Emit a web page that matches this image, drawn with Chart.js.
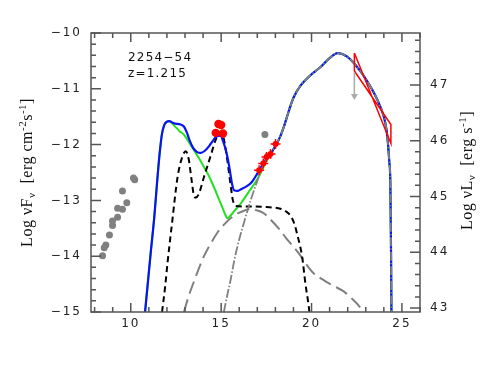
<!DOCTYPE html>
<html>
<head>
<meta charset="utf-8">
<script src="https://cdn.jsdelivr.net/npm/chart.js@4.4.1/dist/chart.umd.min.js"></script>
<style>
  body { margin: 0; background: #fff; }
</style>
</head>
<body>
<canvas id="sed" width="491" height="382"></canvas>
<script>
// log nu [Hz] vs log nuF_nu
const sourceName = '2254\u221254';
const redshift = 'z=1.215';
const lumOffset = 57.93; // log nuL_nu = log nuF_nu + offset

const xTickLabels = [10, 15, 20, 25];
const yTickLabels = [-15, -14, -13, -12, -11, -10];
const y2TickLabels = [43, 44, 45, 46, 47];

// common high energy hump (blue total, green and EC overlap there)
const hump = [[17.7,-12.19],[17.9,-12.08],[18.1,-11.97],[18.3,-11.83],[18.5,-11.65],[18.75,-11.39],
  [19.0,-11.16],[19.4,-10.94],[19.9,-10.77],[20.5,-10.61],[21.0,-10.45],[21.45,-10.36],[21.95,-10.42],
  [22.5,-10.6],[23.05,-10.85],[23.6,-11.17],[24.0,-11.5],[24.14,-11.72],[24.22,-11.95],[24.3,-12.3],
  [24.36,-12.7],[24.4,-14.0],[24.42,-15]];

const totalLow = [[10.79,-15],[11.1,-13.95],[11.3,-13.3],[11.47,-12.62],[11.6,-12.15],[11.72,-11.82],
  [11.85,-11.65],[12.0,-11.59],[12.12,-11.58],[12.4,-11.62],[12.75,-11.64],[12.95,-11.68],[13.1,-11.78],
  [13.25,-11.92],[13.45,-12.06],[13.65,-12.13],[13.87,-12.15],[14.1,-12.11],[14.35,-12.02],[14.55,-11.93],
  [14.75,-11.85],[14.95,-11.84],[15.12,-11.95],[15.3,-12.15],[15.45,-12.4],[15.6,-12.7],[15.72,-12.82],
  [15.9,-12.83],[16.1,-12.8],[16.4,-12.75],[16.7,-12.67],[17.0,-12.52],[17.2,-12.41],[17.4,-12.3]];

const greenLow = [[10.79,-15],[11.1,-13.95],[11.3,-13.3],[11.47,-12.62],[11.6,-12.15],[11.72,-11.82],
  [11.85,-11.65],[12.0,-11.59],[12.12,-11.58],[12.4,-11.66],[12.7,-11.76],[12.94,-11.82],[13.2,-11.95],
  [13.5,-12.1],[13.8,-12.26],[14.05,-12.4],[14.35,-12.58],[14.6,-12.76],[14.85,-12.96],[15.06,-13.12],
  [15.25,-13.27],[15.34,-13.32],[15.5,-13.28],[15.7,-13.2],[16.07,-13.06],[16.5,-12.86],[17.0,-12.62],
  [17.2,-12.5],[17.45,-12.33]];

const torusDisk = [[11.73,-15],[11.9,-14.55],[12.03,-14.13],[12.3,-13.36],[12.58,-12.6],[12.85,-12.22],
  [13.04,-12.12],[13.2,-12.25],[13.35,-12.6],[13.5,-12.92],[13.6,-12.95],[13.77,-12.88],[14.05,-12.58],
  [14.42,-12.2],[14.69,-11.92],[14.88,-11.79],[15.0,-11.77],[15.15,-11.9],[15.35,-12.3],[15.52,-12.72],
  [15.65,-13.0],[15.8,-13.1],[16.6,-13.11],[17.5,-13.12],[18.28,-13.15],[18.6,-13.2],[18.85,-13.28],
  [19.05,-13.42],[19.2,-13.6],[19.48,-14.01],[19.66,-14.49],[19.85,-14.91],[19.88,-15]];

const ssc = [[12.94,-15],[13.2,-14.72],[13.5,-14.45],[14.05,-14.0],[14.5,-13.73],[14.79,-13.58],
  [15.2,-13.42],[15.52,-13.32],[16.0,-13.22],[16.3,-13.18],[16.63,-13.15],[17.0,-13.18],[17.36,-13.23],
  [17.9,-13.4],[18.28,-13.54],[18.6,-13.68],[19.0,-13.83],[19.3,-13.95],[19.65,-14.12],[20.1,-14.3],
  [20.67,-14.43],[21.2,-14.53],[21.78,-14.63],[22.33,-14.79],[22.6,-14.88],[22.85,-15]];

const ecLow = [[15.15,-15],[15.35,-14.68],[15.52,-14.43],[15.7,-14.12],[15.89,-13.84],[16.26,-13.4],
  [16.63,-13.0],[17.0,-12.65],[17.2,-12.48],[17.4,-12.32]];

const radioPts = [[10.15,-12.6],[10.22,-12.63],[9.54,-12.83],[9.78,-13.04],[9.27,-13.14],[9.54,-13.16],
  [9.27,-13.3],[8.99,-13.37],[8.99,-13.45],[8.82,-13.62],[8.62,-13.8],[8.53,-13.85],[8.44,-13.99],
  [17.42,-11.82]];

const opticalPts = [[14.85,-11.63],[15.0,-11.65],[14.7,-11.79],[15.1,-11.8]];

const xrayPts = [[17.1,-12.46],[17.33,-12.34],[17.51,-12.22],[17.73,-12.17],[18.01,-11.99]];

const fermiBowtie = [[22.37,-10.36],[24.39,-11.98],[24.39,-11.64],[22.37,-10.68],[22.37,-10.36]];

const upperLimit = [[22.37,-10.70],[22.37,-11.13]];

function pts(arr) {
  return arr.map(p => ({ x: p[0], y: p[1] }));
}

function curve(data, color, width, dash, order) {
  return {
    data: pts(data),
    showLine: true,
    borderColor: color,
    borderWidth: width,
    borderDash: dash,
    pointRadius: 0,
    cubicInterpolationMode: 'monotone',
    order: order
  };
}

function drawTitle(ctx, cx, cy, parts) {
  const big = '16px "Liberation Serif"';
  const small = '11px "Liberation Serif"';
  ctx.save();
  ctx.letterSpacing = '0.5px';
  let total = 0;
  parts.forEach(p => {
    ctx.font = p[1] ? small : big;
    total += ctx.measureText(p[0]).width;
  });
  ctx.translate(cx, cy);
  ctx.rotate(-Math.PI / 2);
  ctx.fillStyle = '#111';
  ctx.textBaseline = 'alphabetic';
  let x = -total / 2;
  parts.forEach(p => {
    ctx.font = p[1] ? small : big;
    const dy = p[1] === 'sub' ? 3 : (p[1] === 'sup' ? -6 : 0);
    ctx.fillText(p[0], x, 5 + dy);
    x += ctx.measureText(p[0]).width;
  });
  ctx.restore();
}

const frame = {
  id: 'frame',
  beforeDraw(chart) {
    chart.ctx.letterSpacing = '2px';
  },
  afterDatasetsDraw(chart) {
    const ctx = chart.ctx;
    const a = chart.chartArea;
    const sx = chart.scales.x, sy = chart.scales.y, sy2 = chart.scales.y2;
    ctx.save();
    ctx.strokeStyle = '#555';
    ctx.lineWidth = 1.5;
    ctx.strokeRect(a.left, a.top, a.right - a.left, a.bottom - a.top);
    ctx.beginPath();
    for (let v = 8; v <= 26; v++) {
      const px = sx.getPixelForValue(v);
      const len = v % 5 === 0 ? 9 : 5;
      ctx.moveTo(px, a.bottom); ctx.lineTo(px, a.bottom - len);
      ctx.moveTo(px, a.top); ctx.lineTo(px, a.top + len);
    }
    for (let i = 0; i <= 25; i++) {
      const py = sy.getPixelForValue(-15 + i * 0.2);
      const len = i % 5 === 0 ? 10 : 5;
      ctx.moveTo(a.left, py); ctx.lineTo(a.left + len, py);
    }
    for (let i = 0; i <= 24; i++) {
      const py = sy2.getPixelForValue(43 + i * 0.2);
      const len = i % 5 === 0 ? 10 : 5;
      ctx.moveTo(a.right, py); ctx.lineTo(a.right - len, py);
    }
    ctx.stroke();

    // labels inside the plot
    ctx.fillStyle = '#111';
    ctx.letterSpacing = '1.2px';
    ctx.font = '12px "DejaVu Sans"';
    ctx.textBaseline = 'middle';
    ctx.fillText(sourceName, a.left + 37, 58);
    ctx.fillText(redshift, a.left + 37, 73.5);
    ctx.restore();

    // axis titles with sub/superscripts
    drawTitle(ctx, 27, (a.top + a.bottom) / 2,
      [['Log \u03BDF'], ['\u03BD', 'sub'], ['  [erg cm'], ['-2', 'sup'], ['s'], ['-1', 'sup'], [']']]);
    drawTitle(ctx, 467, (a.top + a.bottom) / 2 - 2,
      [['Log \u03BDL'], ['\u03BD', 'sub'], ['  [erg s'], ['-1', 'sup'], [']']]);
  }
};

const tickFont = { family: 'DejaVu Sans', size: 12 };
const fixTicks = vals => s => { s.ticks = vals.map(v => ({ value: v })); };

new Chart(document.getElementById('sed'), {
  type: 'scatter',
  data: {
    datasets: [
      { data: pts(opticalPts), pointRadius: 4.2, pointBackgroundColor: '#ff0000', pointBorderWidth: 0, order: 0 },
      { data: pts(xrayPts), pointRadius: 3, pointBackgroundColor: '#ff0000', pointBorderWidth: 0, order: 0 },
      { data: pts(xrayPts), pointStyle: 'cross', pointRadius: 5, pointBorderColor: '#ff0000', pointBorderWidth: 1.5, order: 1 },
      {
        data: pts(upperLimit), showLine: true, borderColor: '#aaaaaa', borderWidth: 1.5,
        pointRadius: [0, 4], pointStyle: 'triangle', pointRotation: 180,
        pointBackgroundColor: '#aaaaaa', pointBorderWidth: 0, order: 2
      },
      { data: pts(fermiBowtie), showLine: true, borderColor: '#ff0000', borderWidth: 1.5, pointRadius: 0, order: 3 },
      { data: pts(radioPts), pointRadius: 3.5, pointBackgroundColor: '#808080', pointBorderWidth: 0, order: 4 },
      curve(ecLow.concat(hump), '#808080', 1.8, [9, 2, 1.5, 2], 5),
      curve(totalLow.concat(hump), '#0a14f0', 2.2, [], 6),
      curve(torusDisk, '#000000', 2, [6, 4], 7),
      curve(ssc, '#808080', 2, [13, 6], 8),
      curve(greenLow.concat(hump), '#22e022', 2, [], 9)
    ]
  },
  options: {
    responsive: false,
    animation: false,
    devicePixelRatio: 1,
    layout: { padding: { top: 33, left: 0, right: 0, bottom: 0 } },
    plugins: { legend: { display: false }, tooltip: { enabled: false } },
    scales: {
      x: {
        type: 'linear', min: 7.8, max: 26,
        grid: { display: false, drawTicks: false },
        border: { display: false },
        ticks: { autoSkip: false, padding: 5, maxRotation: 0, font: tickFont, color: '#222' },
        afterBuildTicks: fixTicks(xTickLabels),
        afterFit: s => { s.height = 70; }
      },
      y: {
        type: 'linear', min: -15, max: -10, position: 'left',
        grid: { display: false, drawTicks: false },
        border: { display: false },
        ticks: {
          padding: 9, font: tickFont, color: '#222',
          callback: v => '\u2212' + Math.abs(v)
        },
        afterBuildTicks: fixTicks(yTickLabels),
        afterFit: s => { s.width = 91; }
      },
      y2: {
        type: 'linear', min: -15 + lumOffset, max: -10 + lumOffset, position: 'right',
        grid: { display: false, drawTicks: false },
        border: { display: false },
        ticks: { padding: 10, font: tickFont, color: '#222', callback: v => String(v) },
        afterBuildTicks: fixTicks(y2TickLabels),
        afterFit: s => { s.width = 71; }
      }
    }
  },
  plugins: [frame]
});
</script>
</body>
</html>
